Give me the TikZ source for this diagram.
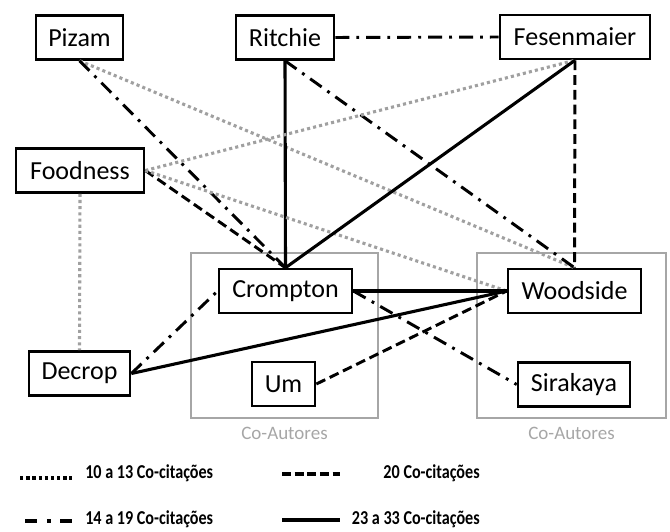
\documentclass[tikz,border=0pt]{standalone}
\usepackage{fontspec}
\setmainfont{Carlito}
\newfontfamily\legendfont{Carlito Bold}[FakeStretch=0.82]
\definecolor{groupgray}{RGB}{166,166,166}
\definecolor{dotgray}{RGB}{160,160,160}
\tikzset{
	author/.style={draw=black, line width=1.8pt, fill=white, minimum height=1.1cm, inner sep=0pt, font=\fontsize{18.5}{22}\selectfont},
	group/.style={draw=groupgray, line width=1.8pt, minimum width=#1, minimum height=4.12cm, inner sep=0pt,
		label={[text=groupgray, font=\fontsize{13.5}{16}\selectfont, label distance=2pt]below:Co-Autores}},
	dotcit/.style={draw=dotgray, line width=2.2pt, dash pattern=on 2.2pt off 2.2pt},
	dashdotcit/.style={line width=2.1pt, dash pattern=on 10pt off 5pt on 2pt off 5pt},
	dashcit/.style={line width=2.1pt, dash pattern=on 7pt off 3.5pt},
	solidcit/.style={line width=2.2pt},
	legend/.style={font=\legendfont\fontsize{14}{16}\selectfont, inner sep=0pt},
}

\begin{document}
\begin{tikzpicture}[x=0.025cm, y=-0.025cm]
	\useasboundingbox (0,0) rectangle (670,532);
	
	\node[group=4.68cm] (coaut1) at (284.5,335.5) {};
	\node[group=4.72cm] (coaut2) at (571.5,335.5) {};
	
	\node[author, minimum width=2.18cm] (pizam) at (79.5,37.5) {Pizam};
	\node[author, minimum width=2.45cm] (ritchie) at (285,37.5) {Ritchie};
	\node[author, minimum width=3.75cm] (fesenmaier) at (575,37) {Fesenmaier};
	\node[author, minimum width=3.2cm] (foodness) at (80,170.5) {Foodness};
	\node[author, minimum width=2.53cm] (decrop) at (79.5,373.5) {Decrop};
	\node[author, minimum width=3.33cm] (crompton) at (285.5,291) {Crompton};
	\node[author, minimum width=1.58cm] (um) at (283.5,384) {Um};
	\node[author, minimum width=3.33cm] (woodside) at (574.5,291) {Woodside};
	\node[author, minimum width=2.8cm] (sirakaya) at (574,384.5) {Sirakaya};
	
	\draw[dashdotcit] (ritchie.east) -- (fesenmaier.west);
	\draw[dotcit] (pizam.south) -- (woodside.north);
	\draw[dashdotcit] (pizam.south) -- (crompton.north);
	\draw[solidcit] (ritchie.south) -- (crompton.north);
	\draw[dashdotcit] (ritchie.south) -- (woodside.north);
	\draw[dotcit] (foodness.east) -- (fesenmaier.south);
	\draw[dashcit] (foodness.east) -- (crompton.north);
	\draw[dotcit] (foodness.east) -- (woodside.west);
	\draw[dotcit] (foodness.south) -- (decrop.north);
	\draw[solidcit] (fesenmaier.south) -- (crompton.north);
	\draw[dashcit] (fesenmaier.south) -- (woodside.north);
	\draw[solidcit] (crompton.east) -- (woodside.west);
	\draw[dashdotcit] (crompton.east) -- (sirakaya.west);
	\draw[dashdotcit] (decrop.east) -- (crompton.west);
	\draw[solidcit] (decrop.east) -- (woodside.west);
	\draw[dashcit] (um.east) -- (woodside.west);
	
	\node[legend, anchor=west] (leg10) at (85,473) {10 a 13 Co-citações};
	\node[legend, anchor=west] (leg14) at (85,519) {14 a 19 Co-citações};
	\node[legend, anchor=east] (leg20) at (480,473) {20 Co-citações};
	\node[legend, anchor=east] (leg23) at (480,519) {23 a 33 Co-citações};
	\coordinate (s10a) at (20,478);
	\coordinate (s10b) at (72,478);
	\coordinate (s14a) at (25,521);
	\coordinate (s14b) at (72,521);
	\coordinate (s20a) at (282,474);
	\coordinate (s20b) at (340,474);
	\coordinate (s23a) at (282,520);
	\coordinate (s23b) at (340,520);
	\draw[line width=2.6pt, dash pattern=on 2.4pt off 2pt] (s10a) -- (s10b);
	\draw[line width=2.4pt, dash pattern=on 8.5pt off 7pt on 3pt off 6.5pt] (s14a) -- (s14b);
	\draw[line width=2.4pt, dash pattern=on 6.5pt off 2.5pt] (s20a) -- (s20b);
	\draw[line width=2.4pt] (s23a) -- (s23b);
\end{tikzpicture}
\end{document}
